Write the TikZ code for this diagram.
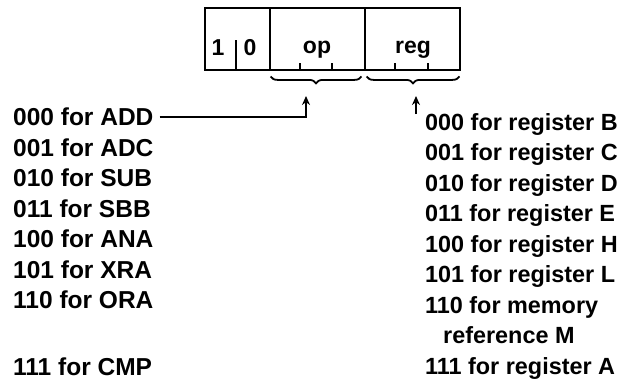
\documentclass[tikz,border=0pt]{standalone}
\usepackage{fontspec}
\setmainfont{Liberation Sans}
\usetikzlibrary{arrows.meta, positioning, decorations.pathreplacing}

\begin{document}
\begin{tikzpicture}[x=1pt, y=-1pt,
        cell/.style={draw, line width=2.8pt, minimum height=62pt, inner sep=0pt},
        bit/.style={anchor=base, inner sep=0pt, font=\fontsize{23}{27}\selectfont\bfseries},
        entry/.style={anchor=base west, inner sep=0pt, font=\fontsize{24.5}{28}\selectfont\bfseries},
        regentry/.style={entry, font=\fontsize{23.4}{28}\selectfont\bfseries},
        brace/.style={decorate, decoration={brace, mirror, amplitude=7pt}, line width=1.8pt},
        ptr/.style={line width=1.8pt, -{Stealth[length=9pt, width=8pt]}}]
        \useasboundingbox (0,0) rectangle (620,388);

        % instruction word
        \node[cell, minimum width=65pt] (bits) at (237.5,39) {};
        \node[cell, minimum width=95pt] (op) at (317.5,39) {};
        \node[cell, minimum width=95pt] (reg) at (412.5,39) {};

        \node[bit] (one) at (218,55) {1};
        \node[bit] (zero) at (250,55) {0};
        \node[bit] (oplbl) at (317,53) {op};
        \node[bit] (reglbl) at (413,53) {reg};

        \draw[line width=2pt] (236,70) -- (236,40);
        \foreach \t in {300,332,395,428}
            \draw[line width=1.8pt] (\t,70) -- (\t,63);

        \draw[brace] ([xshift=2pt, yshift=-5pt]op.south west) -- ([xshift=-5pt, yshift=-5pt]op.south east);
        \draw[brace] ([xshift=3pt, yshift=-5pt]reg.south west) -- ([xshift=-2pt, yshift=-5pt]reg.south east);

        % op codes
        \node[entry] (add) at (13,125.5) {000 for ADD};
        \node[entry] (adc) at (13,156) {001 for ADC};
        \node[entry] (sub) at (13,186.5) {010 for SUB};
        \node[entry] (sbb) at (13,217) {011 for SBB};
        \node[entry] (ana) at (13,247.5) {100 for ANA};
        \node[entry] (xra) at (13,278) {101 for XRA};
        \node[entry] (ora) at (13,308.5) {110 for ORA};
        \node[entry] (cmp) at (13,375) {111 for CMP};

        % register codes
        \node[regentry] (regb) at (425,130) {000 for register B};
        \node[regentry] (regc) at (425,160.5) {001 for register C};
        \node[regentry] (regd) at (425,191) {010 for register D};
        \node[regentry] (rege) at (425,221.5) {011 for register E};
        \node[regentry] (regh) at (425,252) {100 for register H};
        \node[regentry] (regl) at (425,282.5) {101 for register L};
        \node[regentry] (regm) at (425,313) {110 for memory};
        \node[regentry] (regref) at (443,343.5) {reference M};
        \node[regentry] (rega) at (425,374) {111 for register A};

        \coordinate (optip) at (306,96);
        \coordinate (regfoot) at (416,114);
        \coordinate (regtip) at (416,96);

        \draw[ptr] ([xshift=6pt]add.east) -| (optip);
        \draw[ptr] (regfoot) -- (regtip);
\end{tikzpicture}
\end{document}
